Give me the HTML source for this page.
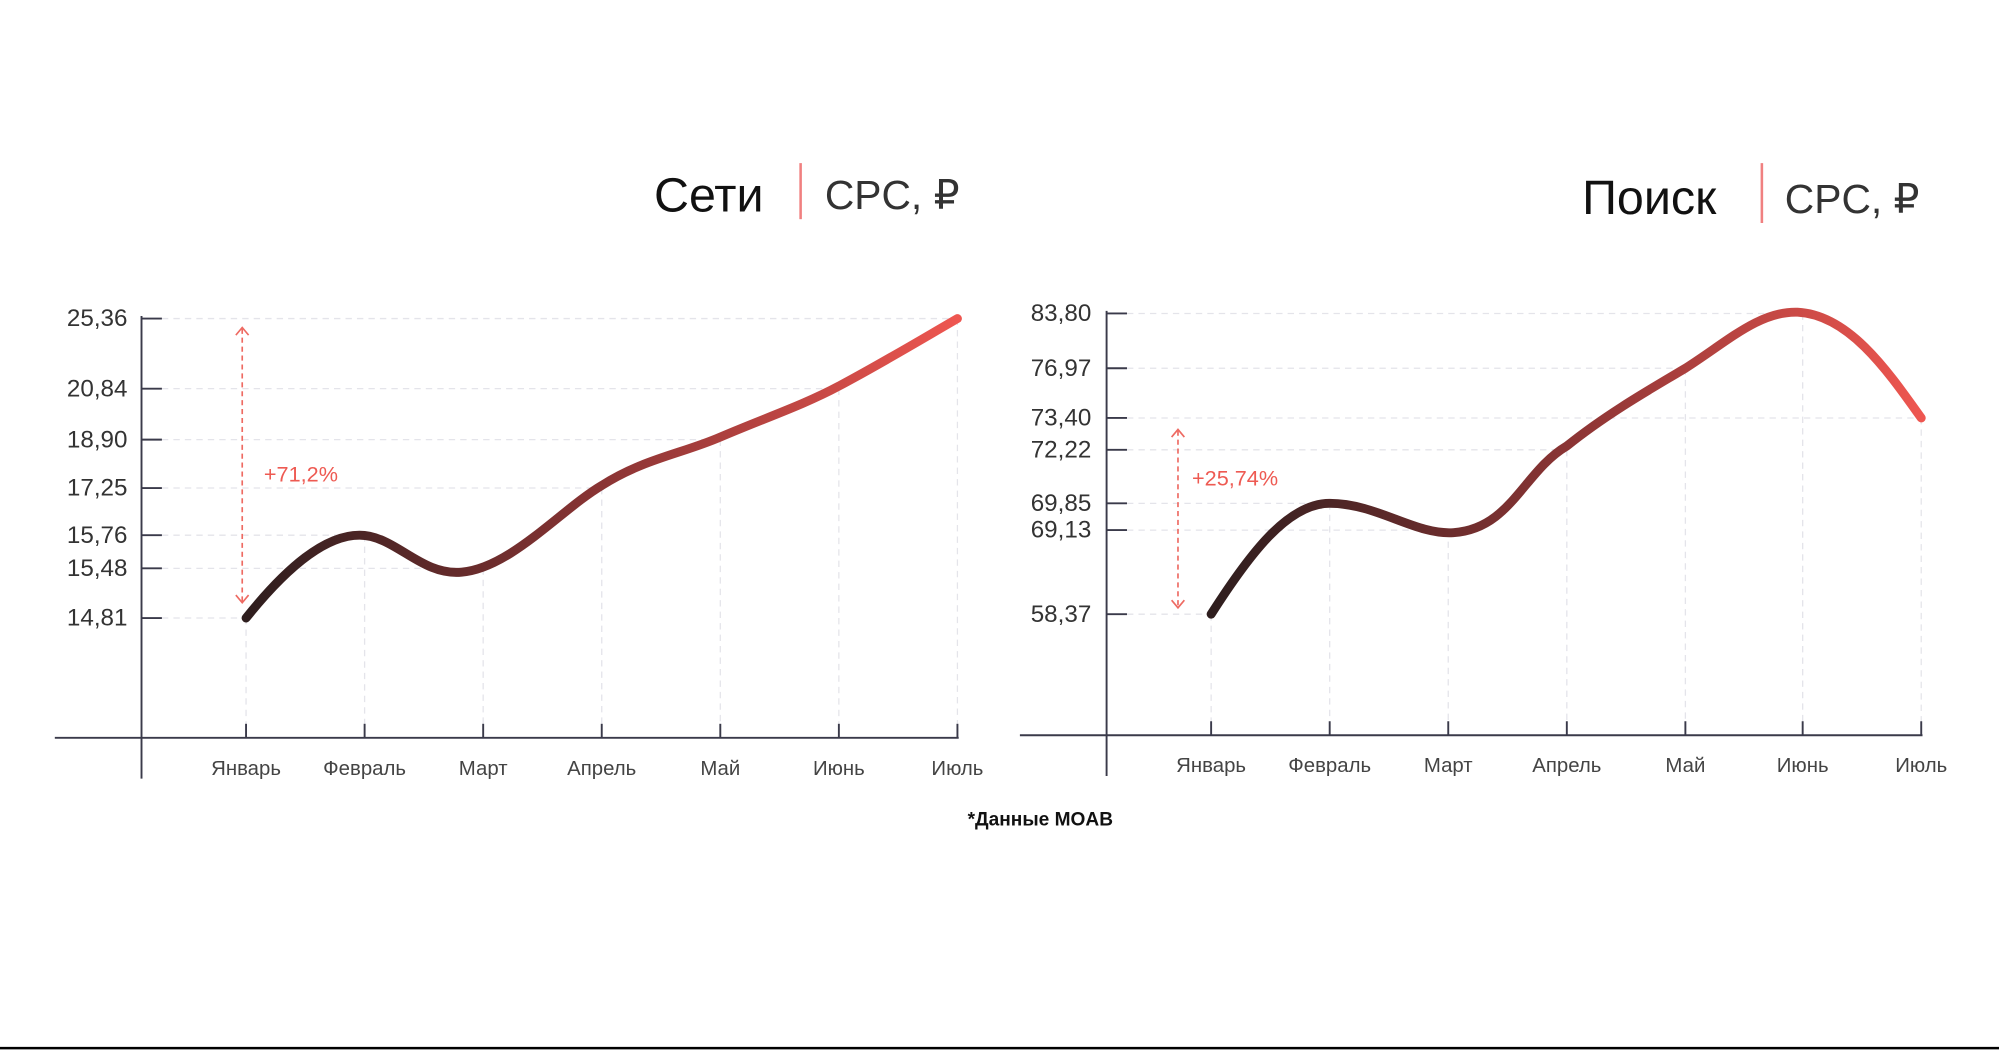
<!DOCTYPE html>
<html><head><meta charset="utf-8"><style>
html,body{margin:0;padding:0;background:#fff;width:1999px;height:1050px;overflow:hidden}
svg{display:block}
text{font-family:"Liberation Sans","DejaVu Sans",sans-serif}
</style></head><body>
<svg width="1999" height="1050" viewBox="0 0 1568 824" preserveAspectRatio="none">
<defs>
<linearGradient id="g1" x1="193" y1="0" x2="751" y2="0" gradientUnits="userSpaceOnUse"><stop offset="0" stop-color="#2e1e1e"/><stop offset="0.5" stop-color="#8a3434"/><stop offset="1" stop-color="#ee5650"/></linearGradient>
<linearGradient id="g2" x1="950" y1="0" x2="1507" y2="0" gradientUnits="userSpaceOnUse"><stop offset="0" stop-color="#2e1e1e"/><stop offset="0.5" stop-color="#8a3434"/><stop offset="1" stop-color="#ee5650"/></linearGradient>
</defs>
<rect width="1568" height="824" fill="#fff"/>
<line x1="0" y1="822.5" x2="1568" y2="822.5" stroke="#000" stroke-width="2"/>

<!-- Left chart -->
<text x="513" y="166" font-size="38" fill="#111">Сети</text>
<line x1="628" y1="128" x2="628" y2="172" stroke="#f08080" stroke-width="2"/>
<text x="647" y="164" font-size="32" fill="#333">CPC, ₽</text>
<g stroke="#e4e4ea" stroke-width="1" stroke-dasharray="5,4">
<line x1="127" y1="250" x2="751" y2="250"/><line x1="127" y1="305" x2="658" y2="305"/><line x1="127" y1="345" x2="565" y2="345"/><line x1="127" y1="383" x2="472" y2="383"/><line x1="127" y1="420" x2="286" y2="420"/><line x1="127" y1="446" x2="379" y2="446"/><line x1="127" y1="485" x2="193" y2="485"/>
<line x1="193" y1="485" x2="193" y2="568"/><line x1="286" y1="420" x2="286" y2="568"/><line x1="379" y1="446" x2="379" y2="568"/><line x1="472" y1="383" x2="472" y2="568"/><line x1="565" y1="345" x2="565" y2="568"/><line x1="658" y1="305" x2="658" y2="568"/><line x1="751" y1="250" x2="751" y2="568"/>
</g>
<g stroke="#3a3a4a" stroke-width="1.5">
<line x1="111" y1="248" x2="111" y2="611"/><line x1="43" y1="579" x2="752" y2="579"/>
<line x1="111" y1="250" x2="127" y2="250"/><line x1="111" y1="305" x2="127" y2="305"/><line x1="111" y1="345" x2="127" y2="345"/><line x1="111" y1="383" x2="127" y2="383"/><line x1="111" y1="420" x2="127" y2="420"/><line x1="111" y1="446" x2="127" y2="446"/><line x1="111" y1="485" x2="127" y2="485"/>
<line x1="193" y1="568" x2="193" y2="579"/><line x1="286" y1="568" x2="286" y2="579"/><line x1="379" y1="568" x2="379" y2="579"/><line x1="472" y1="568" x2="472" y2="579"/><line x1="565" y1="568" x2="565" y2="579"/><line x1="658" y1="568" x2="658" y2="579"/><line x1="751" y1="568" x2="751" y2="579"/>
</g>
<g font-size="19" fill="#333" text-anchor="end">
<text x="100" y="256">25,36</text><text x="100" y="311">20,84</text><text x="100" y="351">18,90</text><text x="100" y="389">17,25</text><text x="100" y="426">15,76</text><text x="100" y="452">15,48</text><text x="100" y="491">14,81</text>
</g>
<g font-size="16" fill="#444" text-anchor="middle">
<text x="193" y="608">Январь</text><text x="286" y="608">Февраль</text><text x="379" y="608">Март</text><text x="472" y="608">Апрель</text><text x="565" y="608">Май</text><text x="658" y="608">Июнь</text><text x="751" y="608">Июль</text>
</g>
<g stroke="#ee6a62" stroke-width="1.3" fill="none">
<line x1="190" y1="258" x2="190" y2="472" stroke-dasharray="4,3"/>
<polyline points="185,263 190,257 195,263"/><polyline points="185,467 190,473 195,467"/>
</g>
<text x="207" y="378" font-size="17" fill="#ee5a52">+71,2%</text>
<path d="M193,485 C225,445 255,420 282,420 C310,420 330,452 362,449 C400,446 440,400 472,381 C505,360 535,356 565,343 C600,328 630,318 658,303 C690,286 720,268 751,250" fill="none" stroke="url(#g1)" stroke-width="7" stroke-linecap="round"/>

<!-- Right chart -->
<text x="1241" y="168" font-size="38" fill="#111">Поиск</text>
<line x1="1382" y1="128" x2="1382" y2="175" stroke="#f08080" stroke-width="2"/>
<text x="1400" y="167" font-size="32" fill="#333">CPC, ₽</text>
<g stroke="#e4e4ea" stroke-width="1" stroke-dasharray="5,4">
<line x1="884" y1="246" x2="1414" y2="246"/><line x1="884" y1="289" x2="1322" y2="289"/><line x1="884" y1="328" x2="1507" y2="328"/><line x1="884" y1="353" x2="1229" y2="353"/><line x1="884" y1="395" x2="1043" y2="395"/><line x1="884" y1="416" x2="1136" y2="416"/><line x1="884" y1="482" x2="950" y2="482"/>
<line x1="950" y1="482" x2="950" y2="566"/><line x1="1043" y1="395" x2="1043" y2="566"/><line x1="1136" y1="416" x2="1136" y2="566"/><line x1="1229" y1="353" x2="1229" y2="566"/><line x1="1322" y1="289" x2="1322" y2="566"/><line x1="1414" y1="246" x2="1414" y2="566"/><line x1="1507" y1="328" x2="1507" y2="566"/>
</g>
<g stroke="#3a3a4a" stroke-width="1.5">
<line x1="868" y1="244" x2="868" y2="609"/><line x1="800" y1="577" x2="1508" y2="577"/>
<line x1="868" y1="246" x2="884" y2="246"/><line x1="868" y1="289" x2="884" y2="289"/><line x1="868" y1="328" x2="884" y2="328"/><line x1="868" y1="353" x2="884" y2="353"/><line x1="868" y1="395" x2="884" y2="395"/><line x1="868" y1="416" x2="884" y2="416"/><line x1="868" y1="482" x2="884" y2="482"/>
<line x1="950" y1="566" x2="950" y2="577"/><line x1="1043" y1="566" x2="1043" y2="577"/><line x1="1136" y1="566" x2="1136" y2="577"/><line x1="1229" y1="566" x2="1229" y2="577"/><line x1="1322" y1="566" x2="1322" y2="577"/><line x1="1414" y1="566" x2="1414" y2="577"/><line x1="1507" y1="566" x2="1507" y2="577"/>
</g>
<g font-size="19" fill="#333" text-anchor="end">
<text x="856" y="252">83,80</text><text x="856" y="295">76,97</text><text x="856" y="334">73,40</text><text x="856" y="359">72,22</text><text x="856" y="401">69,85</text><text x="856" y="422">69,13</text><text x="856" y="488">58,37</text>
</g>
<g font-size="16" fill="#444" text-anchor="middle">
<text x="950" y="606">Январь</text><text x="1043" y="606">Февраль</text><text x="1136" y="606">Март</text><text x="1229" y="606">Апрель</text><text x="1322" y="606">Май</text><text x="1414" y="606">Июнь</text><text x="1507" y="606">Июль</text>
</g>
<g stroke="#ee6a62" stroke-width="1.3" fill="none">
<line x1="924" y1="338" x2="924" y2="476" stroke-dasharray="4,3"/>
<polyline points="919,343 924,337 929,343"/><polyline points="919,471 924,477 929,471"/>
</g>
<text x="935" y="381" font-size="17" fill="#ee5a52">+25,74%</text>
<path d="M950,482 C980,435 1010,395 1043,395 C1080,395 1110,420 1140,418 C1185,415 1195,370 1229,350 C1260,325 1295,305 1322,289 C1355,268 1380,244 1410,245 C1450,247 1480,290 1507,328" fill="none" stroke="url(#g2)" stroke-width="7" stroke-linecap="round"/>

<text x="816" y="648" font-size="15" font-weight="bold" fill="#111" text-anchor="middle">*Данные MOAB</text>
</svg>
</body></html>
